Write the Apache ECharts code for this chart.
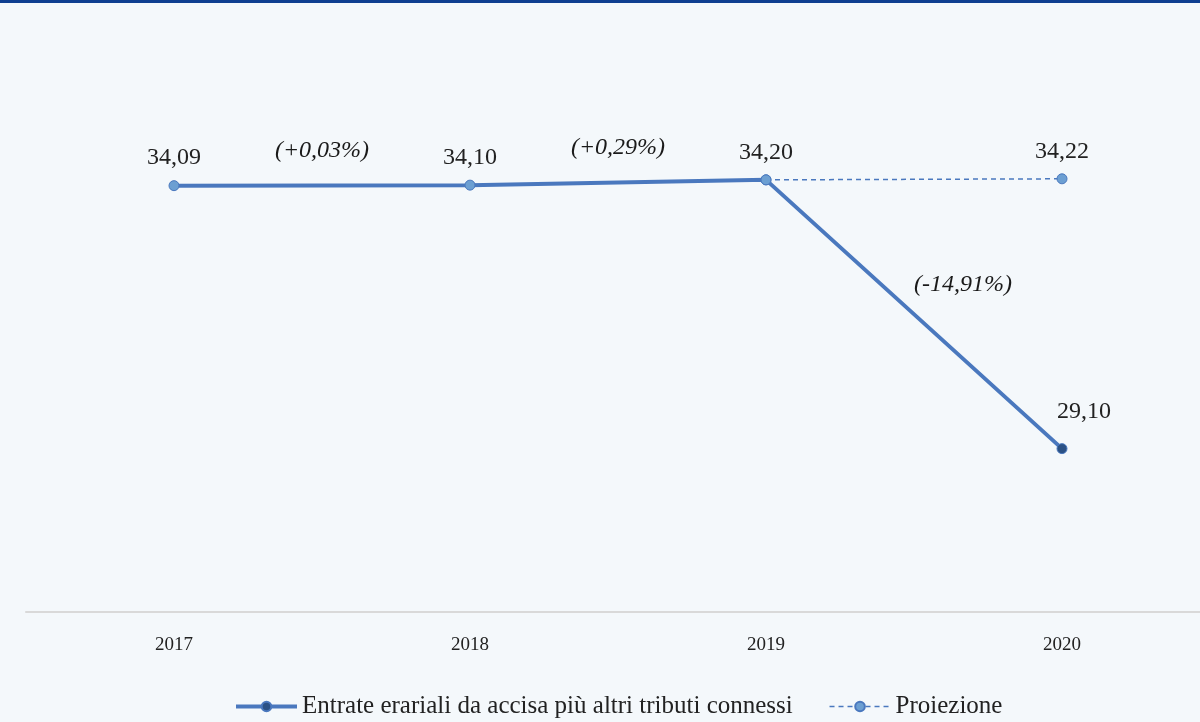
<!DOCTYPE html>
<html>
<head>
<meta charset="utf-8">
<script src="https://cdn.jsdelivr.net/npm/echarts@6/dist/echarts.min.js"></script>
<style>
  html, body { margin: 0; padding: 0; background: #f4f8fb; overflow: hidden; }
  #chart { width: 1210px; height: 722px; }
</style>
</head>
<body>
<div id="chart"></div>
<script>
// dati (miliardi di euro)
var years = ['2017', '2018', '2019', '2020'];
var entrate = [34.09, 34.10, 34.20, 29.10];
var proiezione = [null, null, 34.20, 34.22];
var seriesNames = ['Entrate erariali da accisa più altri tributi connessi', 'Proiezione'];

var FONT = '"Liberation Serif", "Times New Roman", serif';

function fmt(v, d) {
    return v.toFixed(d).replace('.', ',');
}

// variazioni percentuali tra anni consecutivi, a metà segmento
var variazioni = [];
for (var i = 1; i < entrate.length; i++) {
    var pct = (entrate[i] - entrate[i - 1]) / entrate[i - 1] * 100;
    variazioni.push({
        value: [i - 0.5, (entrate[i] + entrate[i - 1]) / 2],
        text: '(' + (pct >= 0 ? '+' : '') + fmt(pct, 2) + '%)'
    });
}
var pctOffsets = [[0, -35], [0, -35], [49, -30]];

// il grafico è un po' più largo della finestra: l'asse esce a destra come nell'originale
var myChart = echarts.init(document.getElementById('chart'));

var option = {
    backgroundColor: '#f4f8fb',
    animation: false,
    graphic: [{
        type: 'rect',
        left: 0, top: 0,
        shape: { width: 1210, height: 3 },
        style: { fill: '#0e3f90' }
    }],
    grid: { left: 26, right: 0, top: 85, bottom: 110 },
    legend: {
        data: [
            { name: seriesNames[0], lineStyle: { width: 4 } },
            { name: seriesNames[1], lineStyle: { width: 1.5 } }
        ],
        left: 234,
        top: 694,
        padding: 0,
        itemWidth: 61,
        itemHeight: 12,
        itemGap: 36,
        textStyle: { fontFamily: FONT, fontSize: 25, color: '#222' }
    },
    xAxis: [{
        type: 'category',
        data: years,
        boundaryGap: true,
        axisTick: { show: false },
        axisLine: { lineStyle: { color: '#d9d9d9', width: 2 } },
        axisLabel: { fontFamily: FONT, fontSize: 19, color: '#222', margin: 24 }
    }, {
        type: 'value',
        min: -0.5,
        max: 3.5,
        show: false
    }],
    yAxis: {
        type: 'value',
        min: 26,
        max: 36,
        show: false,
        splitLine: { show: false }
    },
    series: [{
        name: seriesNames[0],
        type: 'line',
        data: entrate.map(function (v, i) {
            var item = { value: v };
            if (i < entrate.length - 1) {
                item.itemStyle = { color: '#6c9fd2', borderColor: '#4a78be', borderWidth: 1 };
            } else {
                item.label = { offset: [22, -9] };
            }
            return item;
        }),
        symbol: 'circle',
        symbolSize: 10,
        z: 3,
        lineStyle: { color: '#4a78be', width: 4 },
        itemStyle: { color: '#2b5185', borderColor: '#4a78be', borderWidth: 1 },
        label: {
            show: true,
            position: 'top',
            distance: 10,
            fontFamily: FONT,
            fontSize: 24,
            color: '#222',
            formatter: function (p) { return fmt(p.value, 2); }
        }
    }, {
        name: seriesNames[1],
        type: 'line',
        data: proiezione.map(function (v, i) {
            return { value: v, label: { show: i === proiezione.length - 1 } };
        }),
        symbol: 'circle',
        symbolSize: 10,
        z: 2,
        lineStyle: { color: '#4a78be', width: 1.5, type: [5, 4] },
        itemStyle: { color: '#6c9fd2', borderColor: '#4a78be', borderWidth: 1 },
        label: {
            position: 'top',
            distance: 10,
            fontFamily: FONT,
            fontSize: 24,
            color: '#222',
            formatter: function (p) { return fmt(p.value, 2); }
        }
    }, {
        type: 'scatter',
        xAxisIndex: 1,
        symbolSize: 0,
        silent: true,
        itemStyle: { opacity: 1 },
        data: variazioni.map(function (d, i) {
            return {
                value: d.value,
                label: { offset: pctOffsets[i], formatter: d.text }
            };
        }),
        label: {
            show: true,
            position: 'inside',
            fontFamily: FONT,
            fontStyle: 'italic',
            fontSize: 24,
            color: '#1a1a1a'
        }
    }]
};

myChart.setOption(option);
</script>
</body>
</html>
